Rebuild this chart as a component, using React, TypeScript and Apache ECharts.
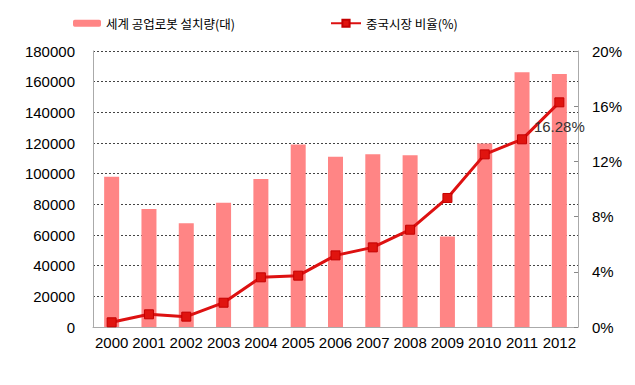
import React, { useEffect, useRef } from "react";
import * as echarts from "echarts";

const years = ["2000","2001","2002","2003","2004","2005","2006","2007","2008","2009","2010","2011","2012"];
const installs = [98000, 77000, 67600, 81100, 96500, 119100, 111100, 112600, 112000, 59000, 119600, 166100, 165000];
const chinaShare = [0.34, 0.92, 0.75, 1.76, 3.6, 3.72, 5.19, 5.77, 7.05, 9.35, 12.51, 13.6, 16.28];
const barName = "세계 공업로봇 설치량(대)";
const lineName = "중국시장 비율(%)";
const labelledIndex = 12;

export default function App() {
  const ref = useRef<HTMLDivElement>(null);
  useEffect(() => {
    if (!ref.current) return;
    const chart = echarts.init(ref.current, null, { renderer: "svg" });
    const font = "'Liberation Sans', Arial, sans-serif";
    const kfont = "'Noto Sans CJK KR', sans-serif";
    chart.setOption({
      animation: false,
      backgroundColor: "#fff",
      textStyle: { fontFamily: font },
      legend: [
        {
          data: [barName],
          left: 68,
          top: 12,
          itemWidth: 28,
          itemHeight: 7,
          itemGap: 6,
          textStyle: { fontFamily: kfont, fontSize: 12.5, color: "#000" },
        },
        {
          data: [lineName],
          left: 325,
          top: 12,
          itemWidth: 30,
          itemHeight: 9,
          textStyle: { fontFamily: kfont, fontSize: 12.5, color: "#000" },
        },
      ],
      grid: { left: 93, right: 57, top: 51, bottom: 58 },
      xAxis: {
        type: "category",
        data: years,
        axisLine: { lineStyle: { color: "#aaa" } },
        axisTick: { inside: true, length: 4, lineStyle: { color: "#888" } },
        axisLabel: { interval: 0, fontSize: 15, color: "#000", margin: 8, fontFamily: font },
      },
      yAxis: [
        {
          type: "value",
          min: 0,
          max: 180000,
          interval: 20000,
          axisLine: { show: true, lineStyle: { color: "#aaa" } },
          axisTick: { show: false },
          axisLabel: {
            fontSize: 15,
            color: "#000",
            margin: 18,
            fontFamily: font,
            formatter: (v: number) => String(v),
          },
          splitLine: { lineStyle: { color: "#444", type: [2, 2], width: 1 } },
        },
        {
          type: "value",
          min: 0,
          max: 20,
          interval: 4,
          axisLine: { show: true, lineStyle: { color: "#aaa" } },
          axisTick: { show: true, inside: true, length: 4, lineStyle: { color: "#888" } },
          axisLabel: { fontSize: 15, color: "#000", margin: 14, formatter: "{value}%", fontFamily: font },
          splitLine: { show: false },
        },
      ],
      series: [
        {
          name: barName,
          type: "bar",
          data: installs,
          barWidth: 15,
          itemStyle: { color: "#ff8585" },
        },
        {
          name: lineName,
          type: "line",
          yAxisIndex: 1,
          data: chinaShare.map((v, i) =>
            i === labelledIndex
              ? {
                  value: v,
                  label: {
                    show: true,
                    position: "bottom",
                    distance: 12,
                    formatter: "{c}%",
                    fontSize: 15,
                    color: "#333",
                    fontFamily: font,
                  },
                }
              : v
          ),
          symbol: "rect",
          symbolSize: 9,
          lineStyle: { color: "#dd1111", width: 3 },
          itemStyle: { color: "#e0140f", borderColor: "#c40000", borderWidth: 1 },
        },
      ],
    });
    return () => chart.dispose();
  }, []);
  return <div ref={ref} style={{ width: 635, height: 385, position: "absolute", left: 0, top: 0 }} />;
}
